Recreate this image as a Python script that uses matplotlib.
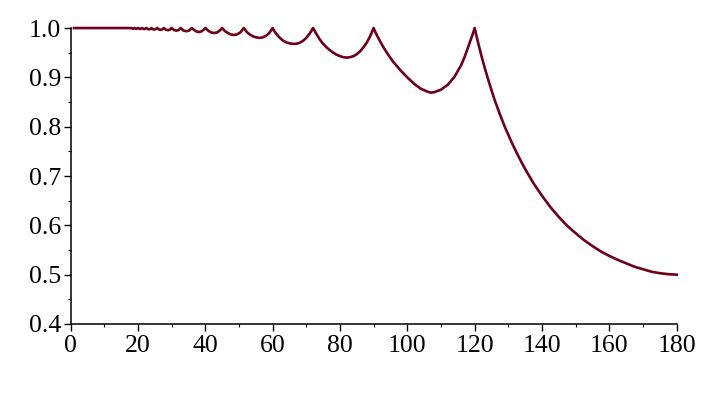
import matplotlib
matplotlib.use('Agg')
import matplotlib.pyplot as plt
from matplotlib.ticker import MultipleLocator

# flat start, where the ripples are below a pixel
flat_x = [1, 18]
flat_y = [1.0, 1.0]

# small ripples between 18 and 45 degrees
ripple_x = [18.0, 18.5, 18.95, 19.5, 20.0, 20.6, 21.18, 21.8, 22.5,
            22.9, 23.3, 23.7, 24.0, 24.4, 24.9, 25.3, 25.71,
            26.2, 26.7, 27.2, 27.69, 28.3, 28.9, 29.5, 30.0,
            30.7, 31.4, 32.1, 32.73, 33.5, 34.4, 35.2, 36.0,
            36.7, 37.4, 38.1, 38.8, 39.4, 40.0,
            40.8, 41.7, 42.6, 43.5, 44.3, 45.0]
ripple_y = [1.0, 0.9985, 1.0, 0.9983, 1.0, 0.998, 1.0, 0.9978, 1.0,
            0.998, 0.9974, 0.998, 1.0, 0.9978, 0.997, 0.9978, 1.0,
            0.9972, 0.9964, 0.9972, 1.0, 0.9966, 0.9957, 0.9966, 1.0,
            0.996, 0.9948, 0.996, 1.0, 0.995, 0.9935, 0.995, 1.0,
            0.996, 0.993, 0.992, 0.993, 0.996, 1.0,
            0.995, 0.991, 0.990, 0.991, 0.995, 1.0]

arc7_x = [45.8, 46.7, 47.6, 48.5, 49.4, 50.4, 51.43]
arc7_y = [0.994, 0.990, 0.987, 0.986, 0.987, 0.991, 1.0]

arc6_x = [52.3, 53.2, 54.2, 55.2, 56.1, 57.0, 58.0, 59.0, 60.0]
arc6_y = [0.992, 0.987, 0.983, 0.981, 0.980, 0.981, 0.984, 0.990, 1.0]

arc5_x = [60.5, 61, 62, 63, 64, 65, 66, 67, 68, 69, 70, 71, 71.5, 72]
arc5_y = [0.994, 0.989, 0.981, 0.975, 0.971, 0.969, 0.968, 0.968, 0.970,
          0.974, 0.980, 0.989, 0.994, 1.0]

arc4_x = [72.5, 73, 74, 75, 76, 77, 78, 79, 80, 81, 82, 83, 84, 85, 86, 87,
          88, 89, 89.5, 90]
arc4_y = [0.994, 0.988, 0.977, 0.968, 0.961, 0.955, 0.950, 0.946, 0.943,
          0.941, 0.940, 0.941, 0.943, 0.947, 0.953, 0.961, 0.971, 0.984,
          0.992, 1.0]

arc3_x = [90.5, 91, 92, 93, 94.5, 96, 98, 100, 102, 104, 106, 107, 108, 110,
          112, 114, 116, 117, 118, 119, 119.5, 120]
arc3_y = [0.992, 0.985, 0.972, 0.960, 0.944, 0.930, 0.914, 0.900, 0.887,
          0.877, 0.871, 0.869, 0.870, 0.875, 0.885, 0.901, 0.925, 0.941,
          0.960, 0.979, 0.989, 1.0]

arc2_x = [120.5, 121, 122, 123, 124, 125, 126, 127.5, 129, 131, 133, 135,
          137.5, 140, 142.5, 145, 147.5, 150, 152.5, 155, 157.5, 160, 162.5,
          165, 167.5, 170, 172.5, 175, 177.5, 180]
arc2_y = [0.985, 0.971, 0.944, 0.919, 0.896, 0.874, 0.853, 0.825, 0.799,
          0.768, 0.740, 0.714, 0.685, 0.660, 0.637, 0.617, 0.599, 0.584,
          0.570, 0.558, 0.547, 0.538, 0.530, 0.523, 0.516, 0.511, 0.506,
          0.503, 0.501, 0.500]

x = flat_x + ripple_x + arc7_x + arc6_x + arc5_x + arc4_x + arc3_x + arc2_x
y = flat_y + ripple_y + arc7_y + arc6_y + arc5_y + arc4_y + arc3_y + arc2_y

plt.rcParams['font.family'] = ['Liberation Serif', 'DejaVu Serif']

fig = plt.figure(figsize=(7.09, 4.18), dpi=100)
ax = fig.add_axes([0.0996, 0.2249, 0.8548, 0.708])

ax.plot(x, y, color='#6f0019', linewidth=1.9, clip_on=False,
        solid_joinstyle='round')

ax.set_xlim(0, 180)
ax.set_ylim(0.4, 1.0)
ax.xaxis.set_major_locator(MultipleLocator(20))
ax.xaxis.set_minor_locator(MultipleLocator(10))
ax.yaxis.set_major_locator(MultipleLocator(0.1))
ax.yaxis.set_minor_locator(MultipleLocator(0.05))
ax.yaxis.set_major_formatter(plt.FuncFormatter(lambda v, p: f'{v:.1f}'))

ax.spines['top'].set_visible(False)
ax.spines['right'].set_visible(False)
for s in ('left', 'bottom'):
    ax.spines[s].set_linewidth(1.1)
ax.tick_params(which='major', direction='out', length=5, width=1.0,
               labelsize=18.5, pad=3)
ax.tick_params(axis='y', which='major', pad=2)
ax.tick_params(which='minor', direction='out', length=2.5, width=0.8)

fig.savefig('out.png', dpi=100)
